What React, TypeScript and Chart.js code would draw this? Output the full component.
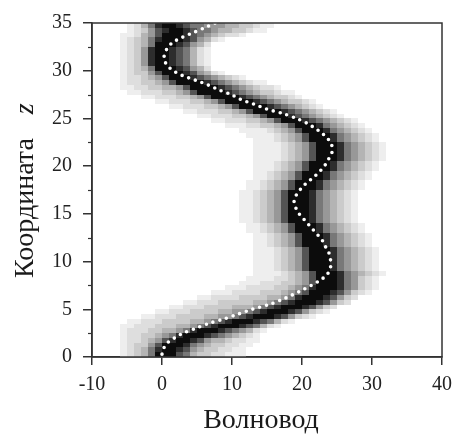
import React, { useEffect, useRef } from 'react';
import { Chart, registerables } from 'chart.js';

Chart.register(...registerables);

// Axis ticks
const xTickValues = [-10, 0, 10, 20, 30, 40];
const zTickValues = [0, 5, 10, 15, 20, 25, 30, 35];
const zMinorTicks = [2.5, 7.5, 12.5, 17.5, 22.5, 27.5, 32.5];

// Axis titles
const xTitle = 'Волновод';
const yTitle = 'Координата';
const yTitleVar = 'z';

// Beam trajectory (white dotted line): z coordinate and waveguide coordinate
const pathZ = [0.3, 0.5, 1, 1.5, 2, 2.5, 3, 3.5, 4, 4.5, 5, 5.5, 6, 6.5, 7, 7.5, 8, 8.5, 9, 9.5, 10, 10.5, 11, 11.5, 12, 12.5, 13, 13.5, 14, 14.5, 15, 15.5, 16, 16.5, 17, 17.5, 18, 18.5, 19, 19.5, 20, 20.5, 21, 21.5, 22, 22.5, 23, 23.5, 24, 24.5, 25, 25.5, 26, 26.5, 27, 27.5, 28, 28.5, 29, 29.5, 30, 30.5, 31, 31.5, 32, 32.5, 33, 33.5, 34, 34.5, 35];
const pathX = [0.0, 0.1, 0.3, 0.8, 1.8, 3.0, 4.8, 6.6, 8.9, 10.9, 12.9, 15.3, 17.1, 18.6, 20.0, 21.3, 22.5, 23.4, 23.9, 24.1, 24.1, 24.0, 23.8, 23.4, 23.1, 22.6, 22.0, 21.4, 20.8, 20.2, 19.6, 19.2, 18.9, 18.9, 19.2, 19.7, 20.3, 21.1, 21.9, 22.6, 23.2, 23.6, 24.0, 24.3, 24.3, 24.1, 23.5, 22.8, 21.8, 20.7, 19.2, 17.3, 14.9, 13.1, 11.2, 9.9, 8.1, 6.6, 4.8, 2.9, 1.6, 0.8, 0.4, 0.3, 0.5, 0.9, 1.6, 2.9, 4.5, 6.1, 7.6];

// Intensity map: one row per 0.5 of z (from z = 0 upward).
// Each row: first waveguide cell, then intensity levels (0 white .. 9 black) of consecutive unit cells.
const rowStepZ = 0.5;
const intensityRows: [number, string][] = [
  [-6, '123469997643322111'],
  [-6, '123468998754332211'],
  [-6, '1233579998654332211'],
  [-6, '12234578998754432211'],
  [-6, '12233456899987654321'],
  [-6, '122233445689998765421'],
  [-6, '11222333445678999876421'],
  [-5, '112223333445678999876421'],
  [-3, '1122233334455678999875321'],
  [-1, '1122233334455678999875321'],
  [1, '112223333444567899987532'],
  [3, '112223333344567899987532'],
  [5, '11222233334456899987532'],
  [7, '11122223334567999875321'],
  [9, '1112222334568999865321'],
  [11, '11122233457999865321'],
  [12, '1111223457999865321'],
  [13, '1111234579998654321'],
  [13, '111234579998654321'],
  [13, '111234579998654321'],
  [13, '111234579998654321'],
  [13, '111234579998654321'],
  [13, '111234579998654321'],
  [13, '11234579998654321'],
  [13, '11234579998654321'],
  [13, '11234579998654321'],
  [12, '11234579998654321'],
  [12, '11234579998654321'],
  [11, '11234579998654321'],
  [11, '11234579998654321'],
  [11, '11234579998654321'],
  [11, '11234579998654321'],
  [11, '11234579998654321'],
  [11, '11234579998654321'],
  [11, '11234579998654321'],
  [12, '11234579998654321'],
  [12, '11234579998654321'],
  [13, '11234579998654321'],
  [13, '11234579998654321'],
  [13, '111234579998654321'],
  [13, '111234579998654321'],
  [13, '1111234579998654321'],
  [13, '1111234579998654321'],
  [13, '1111234579998654321'],
  [13, '1111234579998654321'],
  [13, '111234579998654321'],
  [12, '1111234579998654321'],
  [11, '1111234579998654321'],
  [9, '11122334579998654321'],
  [7, '112223345799987654321'],
  [5, '112223345799987654321'],
  [3, '1122233457999987654321'],
  [1, '1122233457999987654321'],
  [-1, '11222334579999876543321'],
  [-3, '11222334579999876543321'],
  [-5, '112223345799998765433211'],
  [-6, '11223344579999876543221'],
  [-6, '122334579999876543211'],
  [-6, '122345799987654321'],
  [-6, '123357999875421'],
  [-6, '1234699987542'],
  [-6, '1235899876421'],
  [-6, '1235899876421'],
  [-6, '1235899876421'],
  [-6, '1235899876421'],
  [-6, '1234699987542'],
  [-6, '123468999875421'],
  [-6, '112457999876543221'],
  [-5, '12357899876654433211'],
  [-5, '124689987665554433211'],
];

// Gray value for each intensity level
const grayLevels = [255, 238, 222, 203, 180, 152, 120, 84, 45, 12];

const FONT = '"Liberation Serif", "Times New Roman", serif';

const heatmapPlugin = {
  id: 'heatmap',
  beforeDatasetsDraw(chart: any) {
    const { ctx, chartArea, scales } = chart;
    const xs = scales.x;
    const ys = scales.y;
    ctx.save();
    ctx.beginPath();
    ctx.rect(chartArea.left, chartArea.top, chartArea.right - chartArea.left, chartArea.bottom - chartArea.top);
    ctx.clip();
    intensityRows.forEach(([x0, levels], k) => {
      const z0 = k * rowStepZ;
      const yTop = Math.round(ys.getPixelForValue(z0 + rowStepZ));
      const yBot = Math.round(ys.getPixelForValue(z0));
      for (let i = 0; i < levels.length; i++) {
        const lv = Number(levels[i]);
        if (!lv) continue;
        const g = grayLevels[lv];
        ctx.fillStyle = `rgb(${g},${g},${g})`;
        const xl = Math.round(xs.getPixelForValue(x0 + i));
        const xr = Math.round(xs.getPixelForValue(x0 + i + 1));
        ctx.fillRect(xl, yTop, xr - xl, yBot - yTop);
      }
    });
    ctx.restore();
  },
};

const framePlugin = {
  id: 'frame',
  afterDatasetsDraw(chart: any) {
    const { ctx, chartArea, scales } = chart;
    const { left, right, top, bottom } = chartArea;
    ctx.save();
    ctx.strokeStyle = '#333';
    ctx.lineWidth = 1.5;
    ctx.strokeRect(left, top, right - left, bottom - top);
    // minor ticks on z axis
    ctx.lineWidth = 1.2;
    zMinorTicks.forEach((v) => {
      const py = Math.round(scales.y.getPixelForValue(v)) + 0.5;
      ctx.beginPath();
      ctx.moveTo(left - 4, py);
      ctx.lineTo(left, py);
      ctx.stroke();
    });
    ctx.restore();
  },
  afterDraw(chart: any) {
    const { ctx, chartArea } = chart;
    const { left, right, top, bottom } = chartArea;
    ctx.save();
    ctx.fillStyle = '#1a1a1a';
    ctx.font = `28px ${FONT}`;
    ctx.textBaseline = 'alphabetic';
    ctx.textAlign = 'center';
    ctx.fillText(xTitle, (left + right) / 2 - 6, bottom + 71);
    ctx.translate(left - 59, (top + bottom) / 2 + 88);
    ctx.rotate(-Math.PI / 2);
    ctx.textAlign = 'left';
    ctx.fillText(yTitle, 0, 0);
    const w = ctx.measureText(yTitle).width;
    ctx.font = `italic 28px ${FONT}`;
    ctx.fillText(yTitleVar, w + 24, 0);
    ctx.restore();
  },
};

export default function App() {
  const canvasRef = useRef<HTMLCanvasElement>(null);

  useEffect(() => {
    if (!canvasRef.current) return;
    const tickFont = { family: FONT, size: 20 };
    const chart = new Chart(canvasRef.current, {
      type: 'scatter',
      data: {
        datasets: [
          {
            data: pathZ.map((z, i) => ({ x: pathX[i], y: z })),
            showLine: true,
            borderColor: '#ffffff',
            borderWidth: 3.6,
            borderDash: [0, 7],
            borderCapStyle: 'round',
            pointRadius: 0,
            tension: 0.3,
            fill: false,
          },
        ],
      },
      options: {
        responsive: false,
        animation: false,
        events: [],
        layout: { padding: { top: 21, right: 14, left: 0, bottom: 0 } },
        plugins: {
          legend: { display: false },
          tooltip: { enabled: false },
          title: { display: false },
        },
        scales: {
          x: {
            type: 'linear',
            min: -10,
            max: 40,
            afterBuildTicks: (scale: any) => {
              scale.ticks = xTickValues.map((v) => ({ value: v }));
            },
            ticks: { font: tickFont, color: '#222', padding: 8, maxRotation: 0 },
            grid: { drawOnChartArea: false, drawTicks: true, tickLength: 8, color: '#333', lineWidth: 1.5 },
            border: { display: true, color: '#333', width: 1.5 },
            afterFit: (scale: any) => {
              scale.height = 77;
            },
          },
          y: {
            type: 'linear',
            min: 0,
            max: 35,
            afterBuildTicks: (scale: any) => {
              scale.ticks = zTickValues.map((v) => ({ value: v }));
            },
            ticks: { font: tickFont, color: '#222', padding: 11 },
            grid: { drawOnChartArea: false, drawTicks: true, tickLength: 9, color: '#333', lineWidth: 1.5 },
            border: { display: true, color: '#333', width: 1.5 },
            afterFit: (scale: any) => {
              scale.width = 92;
            },
          },
        },
      },
      plugins: [heatmapPlugin, framePlugin],
    } as any);
    return () => chart.destroy();
  }, []);

  return (
    <div style={{ position: 'absolute', left: 0, top: 0, width: 460, height: 434, background: '#fff' }}>
      <canvas ref={canvasRef} width={460} height={434} style={{ display: 'block' }} />
    </div>
  );
}
